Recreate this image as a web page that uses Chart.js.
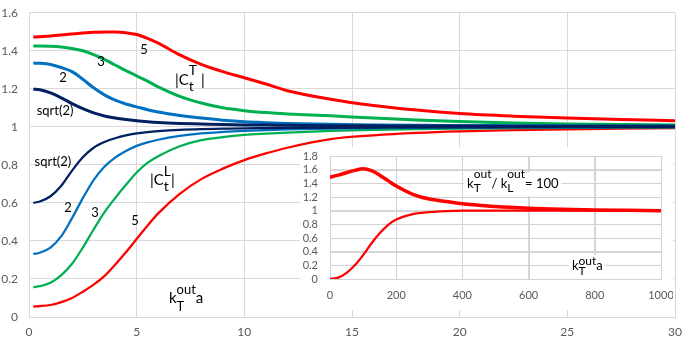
<!DOCTYPE html>
<html>
<head>
<meta charset="utf-8">
<script src="https://cdn.jsdelivr.net/npm/chart.js@4"></script>
<style>
  body{margin:0;background:#fff;}
  #wrap{position:relative;width:685px;height:343px;}
  #inset{position:absolute;left:300px;top:147px;background:#fff;}
</style>
</head>
<body>
<div id="wrap">
  <canvas id="mainChart" width="685" height="343"></canvas>
  <canvas id="inset" width="373" height="163"></canvas>
</div>
<script>
// main chart: x = kT*a, curves for four ratios (sqrt(2), 2, 3, 5)
const xMain = [0.2, 0.5, 1, 1.5, 2, 2.5, 3, 3.5, 4, 4.5, 5, 5.5, 6, 7, 8, 9, 10, 11, 12, 14, 16, 18, 20, 22.5, 25, 27.5, 30];

// |Ct^T| (upper branch)
const ctT_5    = [1.472, 1.474, 1.478, 1.483, 1.488, 1.493, 1.497, 1.499, 1.499, 1.495, 1.485, 1.465, 1.44, 1.378, 1.328, 1.29, 1.258, 1.225, 1.19, 1.145, 1.112, 1.088, 1.07, 1.056, 1.046, 1.038, 1.032];
const ctT_3    = [1.425, 1.425, 1.424, 1.42, 1.412, 1.40, 1.38, 1.355, 1.325, 1.295, 1.268, 1.24, 1.21, 1.16, 1.125, 1.10, 1.085, 1.075, 1.068, 1.058, 1.046, 1.036, 1.028, 1.02, 1.015, 1.012, 1.01];
const ctT_2    = [1.335, 1.334, 1.328, 1.312, 1.29, 1.25, 1.205, 1.168, 1.14, 1.12, 1.105, 1.09, 1.078, 1.06, 1.046, 1.035, 1.027, 1.022, 1.018, 1.013, 1.01, 1.008, 1.007, 1.006, 1.005, 1.004, 1.004];
const ctT_sq2  = [1.198, 1.195, 1.178, 1.152, 1.122, 1.095, 1.073, 1.057, 1.046, 1.038, 1.032, 1.027, 1.023, 1.018, 1.015, 1.012, 1.01, 1.009, 1.008, 1.006, 1.005, 1.004, 1.004, 1.003, 1.003, 1.003, 1.003];

// |Ct^L| (lower branch)
const ctL_5    = [0.055, 0.057, 0.063, 0.078, 0.10, 0.133, 0.17, 0.215, 0.275, 0.34, 0.41, 0.48, 0.545, 0.648, 0.725, 0.78, 0.825, 0.86, 0.89, 0.935, 0.955, 0.968, 0.976, 0.982, 0.987, 0.99, 0.993];
const ctL_3    = [0.157, 0.162, 0.18, 0.22, 0.28, 0.365, 0.46, 0.55, 0.625, 0.695, 0.76, 0.81, 0.845, 0.898, 0.93, 0.946, 0.957, 0.964, 0.97, 0.978, 0.984, 0.988, 0.991, 0.993, 0.995, 0.996, 0.997];
const ctL_2    = [0.332, 0.338, 0.365, 0.425, 0.52, 0.625, 0.72, 0.79, 0.838, 0.873, 0.90, 0.918, 0.932, 0.952, 0.965, 0.973, 0.979, 0.983, 0.986, 0.99, 0.993, 0.995, 0.996, 0.997, 0.997, 0.998, 0.998];
const ctL_sq2  = [0.60, 0.607, 0.635, 0.69, 0.77, 0.84, 0.89, 0.92, 0.94, 0.955, 0.965, 0.972, 0.977, 0.984, 0.988, 0.99, 0.992, 0.993, 0.994, 0.995, 0.996, 0.997, 0.997, 0.998, 0.998, 0.998, 0.998];

// inset: kT/kL = 100
const xInset   = [0, 25, 50, 75, 100, 125, 150, 175, 200, 250, 300, 350, 400, 450, 500, 600, 700, 800, 900, 1000];
const insetT   = [1.49, 1.52, 1.555, 1.59, 1.612, 1.585, 1.52, 1.44, 1.36, 1.24, 1.17, 1.135, 1.10, 1.08, 1.06, 1.035, 1.02, 1.01, 1.005, 1.0];
const insetL   = [0.0, 0.02, 0.09, 0.2, 0.35, 0.52, 0.67, 0.79, 0.87, 0.95, 0.98, 0.995, 1.0, 1.0, 1.0, 1.0, 1.0, 1.0, 1.0, 1.0];

const RED = '#FF0000', GREEN = '#00B050', BLUE = '#0070C0', NAVY = '#002060';
const GRID = '#D9D9D9', TICK = '#595959';
const FONT = 'Lato';

function pts(xs, ys){ return xs.map((x,i)=>({x, y:ys[i]})); }

function line(data, color, width, order){
  return { data, borderColor: color, borderWidth: width, pointRadius: 0, fill: false,
           cubicInterpolationMode: 'monotone', order };
}

function fmt(v){ return String(Number(v.toFixed(1))); }

// rich text: strings are normal, {sub, sup} are stacked
function drawRich(ctx, x, y, parts, size, small, supOff, subOff){
  let cx = x;
  parts.forEach(p => {
    if(typeof p === 'string'){
      ctx.font = size + 'px ' + FONT;
      ctx.fillText(p, cx, y);
      cx += ctx.measureText(p).width;
    } else {
      ctx.font = small + 'px ' + FONT;
      let w = 0;
      if(p.sup){ ctx.fillText(p.sup, cx, y - supOff); w = Math.max(w, ctx.measureText(p.sup).width); }
      if(p.sub){ ctx.fillText(p.sub, cx, y + subOff); w = Math.max(w, ctx.measureText(p.sub).width); }
      cx += w;
    }
  });
  return cx - x;
}

function measureRich(ctx, parts, size, small){
  let w = 0;
  parts.forEach(p => {
    if(typeof p === 'string'){ ctx.font = size + 'px ' + FONT; w += ctx.measureText(p).width; }
    else {
      ctx.font = small + 'px ' + FONT;
      w += Math.max(p.sup ? ctx.measureText(p.sup).width : 0, p.sub ? ctx.measureText(p.sub).width : 0);
    }
  });
  return w;
}

// labels are anchored in data coordinates
const mainLabels = [
  { x: 5.34, y: 1.405, parts: ['5'], size: 13, align: 'center' },
  { x: 3.34, y: 1.34,  parts: ['3'], size: 13, align: 'center' },
  { x: 1.58, y: 1.258, parts: ['2'], size: 13, align: 'center' },
  { x: 1.21, y: 1.084, parts: ['sqrt(2)'], size: 13, align: 'center' },
  { x: 6.78, y: 1.247, parts: ['|C', {sup:'T', sub:'t'}, ' |'], size: 15, small: 14, supOff: 9, subOff: 7 },
  { x: 1.11, y: 0.816, parts: ['sqrt(2)'], size: 13, align: 'center' },
  { x: 1.81, y: 0.574, parts: ['2'], size: 13, align: 'center' },
  { x: 3.07, y: 0.547, parts: ['3'], size: 13, align: 'center' },
  { x: 4.92, y: 0.505, parts: ['5'], size: 13, align: 'center' },
  { x: 5.62, y: 0.721, parts: ['|C', {sup:'L', sub:'t'}, '|'], size: 15, small: 14, supOff: 8, subOff: 7 },
  { x: 6.5,  y: 0.10,  parts: ['k', {sup:'out', sub:'T'}, 'a'], size: 15, small: 13, supOff: 8, subOff: 9, bg: true }
];
const insetLabels = [
  { x: 414, y: 1.40, parts: ['k', {sup:'out', sub:'T'}, '/ k', {sup:'out', sub:'L'}, '= 100'], size: 13, small: 12, supOff: 9, subOff: 5, bg: true },
  { x: 731, y: 0.19, parts: ['k', {sup:'out', sub:'T'}, 'a'], size: 13, small: 12, supOff: 5, subOff: 5, bg: true }
];

function labelPlugin(list){
  return {
    id: 'labels',
    afterDatasetsDraw(chart){
      const ctx = chart.ctx, xs = chart.scales.x, ys = chart.scales.y;
      ctx.save();
      ctx.textBaseline = 'middle';
      ctx.textAlign = 'left';
      list.forEach(l => {
        const small = l.small || l.size;
        const w = measureRich(ctx, l.parts, l.size, small);
        let px = xs.getPixelForValue(l.x), py = ys.getPixelForValue(l.y);
        if(l.align === 'center') px -= w/2;
        if(l.bg){
          ctx.fillStyle = '#fff';
          ctx.fillRect(px - 3, py - l.size + 2, w + 6, l.size*2 - 2);
        }
        ctx.fillStyle = '#000';
        drawRich(ctx, px, py, l.parts, l.size, small, l.supOff || 0, l.subOff || 0);
      });
      ctx.restore();
    }
  };
}

// grid lines at the scales' own tick values, drawn under the datasets
function tickGrid(color){
  return {
    id: 'tickGrid',
    beforeDatasetsDraw(chart){
      const ctx = chart.ctx, a = chart.chartArea, xs = chart.scales.x, ys = chart.scales.y;
      ctx.save();
      ctx.strokeStyle = color;
      ctx.lineWidth = 1;
      ctx.beginPath();
      xs.ticks.forEach(t => {
        const p = Math.round(xs.getPixelForValue(t.value)) + 0.5;
        ctx.moveTo(p, a.top); ctx.lineTo(p, a.bottom);
      });
      ys.ticks.forEach(t => {
        const p = Math.round(ys.getPixelForValue(t.value)) + 0.5;
        ctx.moveTo(a.left, p); ctx.lineTo(a.right, p);
      });
      ctx.stroke();
      ctx.restore();
    }
  };
}

const whiteBg = {
  id: 'whiteBg',
  beforeDraw(chart){
    const ctx = chart.ctx;
    ctx.save(); ctx.fillStyle = '#fff'; ctx.fillRect(0, 0, chart.width, chart.height); ctx.restore();
  }
};

function axisOpts(min, max, step, size){
  return {
    type: 'linear', min, max,
    grid: { color: GRID, lineWidth: 1, drawTicks: false },
    border: { color: GRID },
    ticks: { stepSize: step, autoSkip: false, color: TICK, font: { family: FONT, size }, callback: fmt }
  };
}

// fixed axis boxes, no extra label overflow padding
function fitX(h){ return a => { a.height = h; a.paddingLeft = 0; a.paddingRight = 0; }; }
function fitY(w){ return a => { a.width = w; a.paddingTop = 0; a.paddingBottom = 0; }; }

// main chart
const mx = axisOpts(0, 30, 5, 12);
mx.ticks.padding = 8;
mx.afterFit = fitX(26);
const my = axisOpts(0, 1.6, 0.2, 12);
my.ticks.padding = 11;
my.afterFit = fitY(29);

new Chart(document.getElementById('mainChart'), {
  type: 'line',
  data: {
    datasets: [
      line(pts(xMain, ctT_5),   RED,   3,   8),
      line(pts(xMain, ctT_3),   GREEN, 3,   7),
      line(pts(xMain, ctT_2),   BLUE,  3,   6),
      line(pts(xMain, ctT_sq2), NAVY,  3,   1),
      line(pts(xMain, ctL_5),   RED,   2.25, 5),
      line(pts(xMain, ctL_3),   GREEN, 2.25, 4),
      line(pts(xMain, ctL_2),   BLUE,  2.25, 3),
      line(pts(xMain, ctL_sq2), NAVY,  2.25, 2)
    ]
  },
  options: {
    responsive: false, animation: false, devicePixelRatio: 1,
    layout: { padding: { top: 12.7, right: 10, left: 0, bottom: 0 } },
    plugins: { legend: { display: false }, tooltip: { enabled: false } },
    scales: { x: mx, y: my }
  },
  plugins: [whiteBg, labelPlugin(mainLabels)]
});

// inset chart
const ix = axisOpts(0, 1000, 200, 11);
ix.ticks.padding = 10;
ix.afterFit = fitX(31);
const iy = axisOpts(0, 1.8, 0.2, 11);
iy.ticks.padding = 12;
iy.afterFit = fitY(30);

new Chart(document.getElementById('inset'), {
  type: 'line',
  data: {
    datasets: [
      line(pts(xInset, insetT), RED, 3.5, 2),
      line(pts(xInset, insetL), RED, 2.25, 1)
    ]
  },
  options: {
    responsive: false, animation: false, devicePixelRatio: 1,
    layout: { padding: { top: 9, right: 12, left: 0, bottom: 0 } },
    plugins: { legend: { display: false }, tooltip: { enabled: false } },
    scales: { x: ix, y: iy }
  },
  plugins: [whiteBg, tickGrid('#D2D2D2'), labelPlugin(insetLabels)]
});
</script>
</body>
</html>
